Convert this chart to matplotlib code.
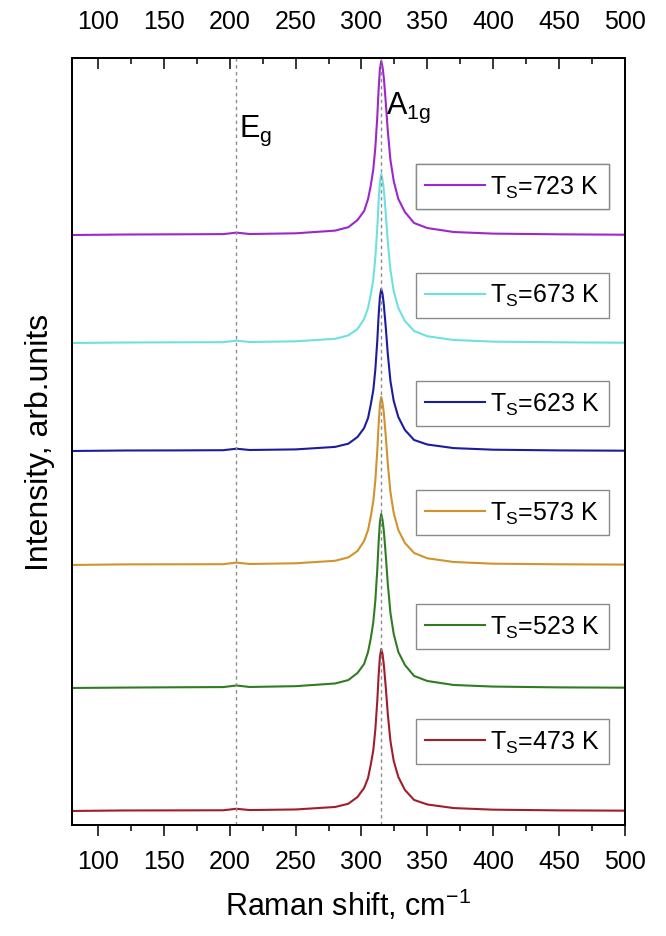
import numpy as np
import matplotlib
matplotlib.use("Agg")
import matplotlib.pyplot as plt
from matplotlib.ticker import MultipleLocator
from matplotlib.lines import Line2D

plt.rcParams['font.family'] = ['Liberation Sans', 'DejaVu Sans']
plt.rcParams['mathtext.fontset'] = 'custom'
plt.rcParams['mathtext.rm'] = 'Liberation Sans'
plt.rcParams['mathtext.it'] = 'Liberation Sans'

# Raman shift grid (cm-1)
shift = [80, 120, 160, 195, 205, 215, 250, 280, 290, 297, 302, 305, 307, 309, 310.5,
         312, 313, 314, 315, 316, 317, 318.5, 320, 322, 324.5, 328, 333, 340, 350,
         370, 400, 450, 500]

# intensities above each spectrum's own background (arb. units)
i_473 = [0, 0.5, 0.6, 0.7, 2.2, 0.9, 1.5, 4.0, 7.2, 14, 23, 33, 46, 61, 81, 110, 135,
         154, 162, 157, 146, 123, 97, 70, 50, 34, 21, 11, 6.5, 2.9, 1.3, 0.6, 0.3]
i_523 = [0, 0.4, 0.7, 0.9, 2.5, 1.0, 1.8, 4.5, 7.9, 15, 24, 36, 49, 66, 87, 118, 145,
         166, 174, 168, 157, 132, 104, 75, 54, 36, 23, 12, 7, 3, 1.4, 0.6, 0.3]
i_573 = [0, 0.6, 0.7, 0.8, 2.4, 1.0, 1.7, 4.2, 7.6, 14, 24, 35, 48, 64, 84, 114, 140,
         160, 168, 162, 152, 128, 101, 73, 52, 35, 22, 12, 6.7, 3, 1.3, 0.7, 0.4]
i_623 = [0, 0.5, 0.6, 0.8, 2.3, 1.0, 1.6, 4.1, 7.3, 14, 23, 33, 46, 61, 81, 110, 135,
         154, 162, 157, 146, 123, 97, 70, 50, 34, 21, 11, 6.5, 2.9, 1.3, 0.6, 0.3]
i_673 = [0, 0.5, 0.7, 0.8, 2.4, 1.0, 1.7, 4.2, 7.6, 14, 24, 35, 48, 64, 85, 115, 141,
         161, 169, 163, 153, 129, 101, 73, 52, 35, 22, 12, 6.8, 3, 1.4, 0.7, 0.3]
i_723 = [0, 0.5, 0.7, 0.9, 2.4, 1.0, 1.7, 4.4, 7.8, 15, 24, 36, 49, 66, 87, 118, 145,
         166, 174, 168, 157, 132, 104, 75, 54, 36, 23, 12, 7, 3, 1.4, 0.7, 0.3]

temps = [473, 523, 573, 623, 673, 723]
spectra = [i_473, i_523, i_573, i_623, i_673, i_723]
offsets = [14, 137, 260, 374, 482, 590]   # vertical stacking of the spectra

peak_eg = 205
peak_a1g = 315

colors = ['#a11d2b', '#2f7d20', '#d4922c', '#1c1ca0', '#6fe0e0', '#9c27cc']
legend_tops = [0.138, 0.288, 0.437, 0.579, 0.720, 0.862]

fig = plt.figure(figsize=(6.66, 9.37), dpi=100)
ax = fig.add_axes([0.108, 0.1185, 0.830, 0.8185])

for t, y, off, c, top in zip(temps, spectra, offsets, colors, legend_tops):
    ax.plot(shift, np.array(y) + off, color=c, lw=1.5)
    h = Line2D([], [], color=c, lw=1.5)
    leg = ax.legend([h], [r'T$_\mathregular{S}$=%d K' % t], loc='upper left',
                    bbox_to_anchor=(0.622, top), fontsize=18, frameon=True,
                    fancybox=False, edgecolor='#8a8a8a', framealpha=1,
                    handlelength=2.4, handletextpad=0.2, borderpad=0.38,
                    borderaxespad=0)
    leg.get_frame().set_linewidth(1.0)
    ax.add_artist(leg)

for p in [peak_eg, peak_a1g]:
    ax.axvline(p, color='#8c8c8c', lw=1.0, ls=(0, (2.5, 2.5)), zorder=5)

ax.text(peak_eg + 2, 695, r'E$_\mathregular{g}$', fontsize=22, va='center', ha='left')
ax.text(peak_a1g + 4, 718, r'A$_\mathregular{1g}$', fontsize=22, va='center', ha='left')

ax.set_xlim(80, 500)
ax.set_ylim(0, 767)
ax.set_yticks([])
ax.xaxis.set_major_locator(MultipleLocator(50))
ax.xaxis.set_minor_locator(MultipleLocator(25))
ax.tick_params(axis='x', which='major', direction='out', length=8, width=1.1,
               labelsize=18, pad=9)
ax.tick_params(axis='x', which='minor', direction='out', length=4.5, width=1.1)

# mirrored top axis, ticks pointing inwards
top_ax = ax.twiny()
top_ax.set_xlim(ax.get_xlim())
top_ax.set_xticks(np.arange(100, 501, 50))
top_ax.set_xticks(np.arange(125, 500, 50), minor=True)
top_ax.tick_params(axis='x', which='major', direction='in', length=8, width=1.1,
                   labelsize=18, pad=18)
top_ax.tick_params(axis='x', which='minor', direction='in', length=4.5, width=1.1)

for s in list(ax.spines.values()) + list(top_ax.spines.values()):
    s.set_linewidth(1.3)

ax.set_xlabel(r'Raman shift, cm$^\mathregular{-1}$', fontsize=22, labelpad=10)
ax.set_ylabel('Intensity, arb.units', fontsize=23, labelpad=12)

fig.savefig('out.png', dpi=100)
